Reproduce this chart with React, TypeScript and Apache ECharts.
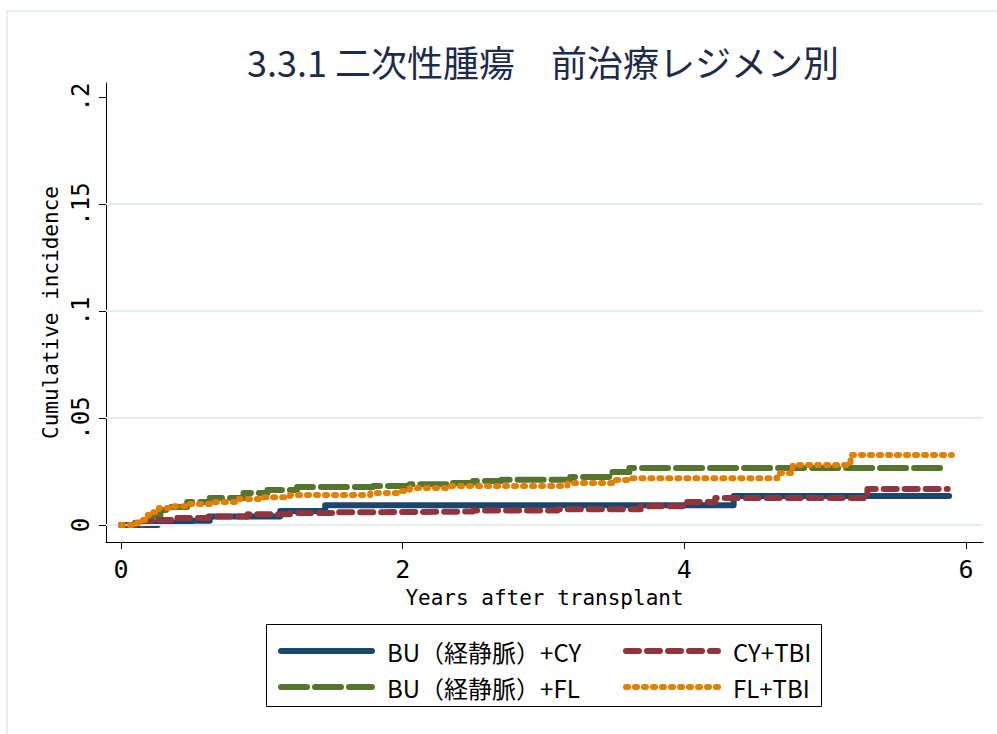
import React, { useEffect, useRef } from "react";
import * as echarts from "echarts";

const titleText = "3.3.1 二次性腫瘍　前治療レジメン別";
const xTicks = [0, 2, 4, 6];
const yTicks = [0, 0.05, 0.1, 0.15, 0.2];
const gridValues = [0, 0.05, 0.1, 0.15];
const seriesNames = ["BU（経静脈）+CY", "BU（経静脈）+FL", "CY+TBI", "FL+TBI"];

const buCyT = [0, 0.26, 0.5, 0.63, 1.13, 1.45, 4.35, 5.88];
const buCyV = [0, 0.001, 0.002, 0.004, 0.0065, 0.0092, 0.0136, 0.0136];

const buFlT = [0, 0.1, 0.16, 0.22, 0.28, 0.35, 0.47, 0.63, 0.87, 1.04, 1.25, 1.79, 2.05, 2.34, 2.5, 2.7, 3.19, 3.49, 3.61, 5.87];
const buFlV = [0, 0.001, 0.0023, 0.0047, 0.007, 0.0084, 0.0107, 0.0126, 0.015, 0.0164, 0.0178, 0.0182, 0.019, 0.0196, 0.0206, 0.0212, 0.0224, 0.0248, 0.0266, 0.0266];

const cyTbiT = [0, 0.15, 0.22, 0.4, 0.62, 0.9, 1.2, 1.5, 1.85, 2.5, 3.1, 3.69, 4.02, 4.22, 5.3, 5.87];
const cyTbiV = [0, 0.0015, 0.0023, 0.0033, 0.004, 0.005, 0.0056, 0.006, 0.0063, 0.0068, 0.0074, 0.0088, 0.0107, 0.0126, 0.0168, 0.0168];

const flTbiT = [0, 0.11, 0.14, 0.19, 0.23, 0.27, 0.35, 0.49, 0.63, 0.82, 0.99, 1.2, 1.77, 1.96, 2.05, 2.34, 3.17, 3.49, 3.61, 4.66, 4.77, 5.18, 5.9];
const flTbiV = [0, 0.001, 0.0023, 0.0047, 0.006, 0.008, 0.0088, 0.0098, 0.0108, 0.0122, 0.013, 0.014, 0.015, 0.0159, 0.0173, 0.0182, 0.0196, 0.021, 0.0218, 0.0243, 0.028, 0.0327, 0.0327];

const colors = ["#1a476f", "#55752f", "#90353b", "#e37e00"];
const dashes: any[] = ["solid", [26, 8], [13, 8], [2, 7]];
const LW = 6;

const zip = (t: number[], v: number[]) => t.map((x, i) => [x, v[i]]);

const monoFont = "'DejaVu Sans Mono', 'Liberation Mono', monospace";
const legendFont = "'Noto Sans CJK JP', sans-serif";

export default function App() {
  const ref = useRef<HTMLDivElement>(null);
  useEffect(() => {
    if (!ref.current) return;
    const chart = echarts.init(ref.current, null, { renderer: "svg" });
    const data = [zip(buCyT, buCyV), zip(buFlT, buFlV), zip(cyTbiT, cyTbiV), zip(flTbiT, flTbiV)];
    const series: any[] = [
      {
        type: "line",
        name: "grid",
        data: [[-1, -1]],
        symbol: "none",
        z: 1,
        silent: true,
        lineStyle: { width: 0 },
        markLine: {
          silent: true,
          symbol: "none",
          label: { show: false },
          lineStyle: { color: "#e4eef1", width: 2, type: "solid" },
          data: gridValues.map((v) => ({ yAxis: v })),
        },
      },
      ...seriesNames.map((name, i) => ({
        type: "line",
        name,
        data: data[i],
        step: "end",
        symbol: "none",
        z: 2 + i,
        lineStyle: {
          color: colors[i],
          width: LW,
          type: dashes[i],
          cap: "round",
          join: "round",
        },
        itemStyle: { color: colors[i] },
      })),
    ];
    const legendPos = [
      { name: seriesNames[0], left: 278, top: 639, w: 91 },
      { name: seriesNames[2], left: 623, top: 639, w: 92 },
      { name: seriesNames[1], left: 278, top: 675, w: 91 },
      { name: seriesNames[3], left: 623, top: 675, w: 92 },
    ];
    chart.setOption({
      animation: false,
      grid: { left: 106, right: 14, top: 83, bottom: 192, containLabel: false },
      xAxis: {
        type: "value",
        min: -0.1065,
        max: 6.1208,
        name: "Years after transplant",
        nameLocation: "middle",
        nameGap: 45,
        nameTextStyle: { fontFamily: monoFont, fontSize: 21, color: "#000", verticalAlign: "top" },
        axisLine: { show: true, onZero: false, lineStyle: { color: "#000", width: 1 } },
        axisTick: { show: true, customValues: xTicks, length: 7, lineStyle: { color: "#000" } },
        axisLabel: {
          customValues: xTicks,
          fontFamily: monoFont,
          fontSize: 25,
          color: "#000",
          margin: 15,
          formatter: (v: number) => String(v),
        },
        splitLine: { show: false },
      },
      yAxis: {
        type: "value",
        min: -0.00794,
        max: 0.20654,
        name: "Cumulative incidence",
        nameLocation: "middle",
        nameRotate: 90,
        nameGap: 43,
        nameTextStyle: { fontFamily: monoFont, fontSize: 21, color: "#000" },
        axisLine: { show: true, onZero: false, lineStyle: { color: "#000", width: 1 } },
        axisTick: { show: true, customValues: yTicks, length: 7, lineStyle: { color: "#000" } },
        axisLabel: {
          customValues: yTicks,
          rotate: 90,
          fontFamily: monoFont,
          fontSize: 24,
          color: "#000",
          margin: 13,
          formatter: (v: number) => (v === 0 ? "0" : String(+v.toFixed(2)).replace(/^0/, "")),
        },
        splitLine: { show: false },
      },
      legend: legendPos.map((p) => ({
        data: [p.name],
        left: p.left,
        top: p.top,
        padding: 0,
        itemWidth: p.w,
        itemHeight: 14,
        selectedMode: false,
        itemStyle: { opacity: 0, borderWidth: 0 },
        lineStyle: { width: LW, cap: "round", type: "inherit" },
        textStyle: {
          fontFamily: legendFont,
          fontSize: 24,
          color: "#000",
          padding: [0, 0, 0, 10],
        },
      })),
      graphic: [
        {
          type: "rect",
          shape: { x: 7, y: 11, width: 1100, height: 800 },
          style: { fill: "none", stroke: "#e6eef2", lineWidth: 2 },
          silent: true,
          z: 0,
        },
        {
          type: "rect",
          shape: { x: 266.5, y: 624.5, width: 555, height: 82 },
          style: { fill: "none", stroke: "#000", lineWidth: 1 },
          silent: true,
          z: 0,
        },
        {
          type: "text",
          x: 543,
          y: 61,
          style: {
            text: titleText,
            fontFamily: "'Noto Sans CJK JP', sans-serif",
            fontSize: 36,
            fill: "#1c2b4a",
            textAlign: "center",
            textVerticalAlign: "middle",
          },
        },
      ],
      series,
    });
    return () => chart.dispose();
  }, []);
  return <div ref={ref} style={{ width: 997, height: 734, position: "absolute", left: 0, top: 0 }} />;
}
